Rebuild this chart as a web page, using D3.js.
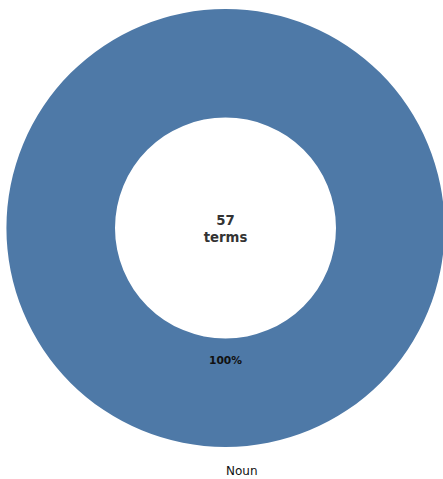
<!DOCTYPE html>
<html>
<head>
<meta charset="utf-8">
<script src="https://cdn.jsdelivr.net/npm/d3@7"></script>
<style>
  html, body { margin: 0; padding: 0; background: #ffffff; }
  svg { display: block; }
</style>
</head>
<body>
<svg id="chart" width="443" height="479"></svg>
<script>
// Part-of-speech breakdown of the glossary terms
const categories = ["Noun"];
const counts = [57];
const colors = ["#4e79a7"];

const width = 443, height = 479;
const cx = 225.5, cy = 228;
const outerR = 219, innerR = 110.5;

const svg = d3.select("#chart");
const g = svg.append("g").attr("transform", `translate(${cx},${cy})`);

const total = d3.sum(counts);
const data = categories.map((c, i) => ({ label: c, value: counts[i], color: colors[i] }));

// Slices start at the top and run counter-clockwise
const pie = d3.pie().value(d => d.value).sort(null)
  .startAngle(0).endAngle(-2 * Math.PI);
const arcs = pie(data);

const arc = d3.arc().innerRadius(innerR).outerRadius(outerR);

g.selectAll("path.slice")
  .data(arcs)
  .join("path")
  .attr("class", "slice")
  .attr("d", arc)
  .attr("fill", d => d.data.color);

const fmtPct = v => Math.round(v / total * 100) + "%";

// Percentage labels at 0.6 of the outer radius
g.selectAll("text.pct")
  .data(arcs)
  .join("text")
  .attr("class", "pct")
  .attr("x", d => Math.sin((d.startAngle + d.endAngle) / 2) * outerR * 0.6)
  .attr("y", d => -Math.cos((d.startAngle + d.endAngle) / 2) * outerR * 0.6 + 1)
  .attr("dy", "0.35em")
  .attr("text-anchor", "middle")
  .attr("font-family", "DejaVu Sans, sans-serif")
  .attr("font-weight", "bold")
  .attr("font-size", "10.7px")
  .attr("fill", "#111111")
  .text(d => fmtPct(d.data.value));

// Category labels just outside the ring
g.selectAll("text.cat")
  .data(arcs)
  .join("text")
  .attr("class", "cat")
  .attr("x", d => Math.sin((d.startAngle + d.endAngle) / 2) * outerR * 1.1 + 0.5)
  .attr("y", d => -Math.cos((d.startAngle + d.endAngle) / 2) * outerR * 1.1 + 2)
  .attr("dy", "0.35em")
  .attr("text-anchor", "start")
  .attr("font-family", "DejaVu Sans, sans-serif")
  .attr("font-size", "12px")
  .attr("fill", "#111111")
  .text(d => d.data.label);

// Total in the hole
const center = g.append("text")
  .attr("text-anchor", "middle")
  .attr("font-family", "DejaVu Sans, sans-serif")
  .attr("font-weight", "bold")
  .attr("font-size", "13.3px")
  .attr("fill", "#333333");
center.append("tspan").attr("x", 0).attr("y", -3).text(String(total));
center.append("tspan").attr("x", 0).attr("y", 13.5).text("terms");
</script>
</body>
</html>
